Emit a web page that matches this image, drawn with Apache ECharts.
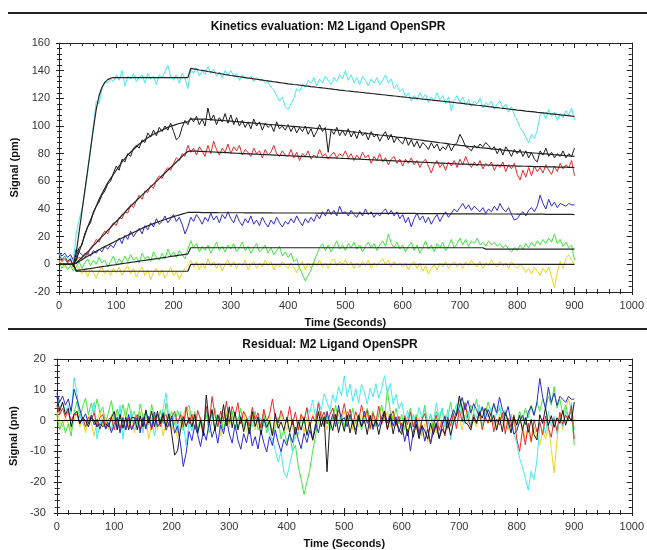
<!DOCTYPE html>
<html lang="en">
<head>
<meta charset="UTF-8">
<script src="https://cdn.jsdelivr.net/npm/echarts@6/dist/echarts.min.js"></script>
<title>Kinetics evaluation: M2 Ligand OpenSPR</title>
<style>html,body{margin:0;padding:0;background:#fff;}</style>
</head>
<body>
<div id="chart" style="width:647px;height:550px;"></div>
<script>
// one sample every 5 s, 0..900 s (rows below = 100 s each)
var timeStep = 5;

var cyanData = [
  8,4,6,3,5,2,22,32,40,52,66,82,100,118,116,127,132,131,134,132,
  137,133,140,129,136,134,138,132,135,137,131,138,134,136,130,137,135,139,144,136,
  133,137,131,138,134,127,141,138,142,136,140,137,143,138,141,136,139,135,140,137,
  140,136,138,133,137,135,134,136,132,135,133,134,131,132,128,126,122,118,121,114,
  112,116,120,127,125,130,128,133,131,135,129,134,131,136,133,130,135,132,137,134,
  140,133,137,131,135,130,136,133,129,134,131,135,130,133,137,131,134,127,130,125,
  127,121,124,118,122,119,124,120,123,117,121,118,124,119,122,116,121,111,119,122,
  117,121,115,119,114,118,116,120,113,117,115,118,112,116,118,113,116,110,114,108,
  104,99,96,92,88,94,91,97,108,110,105,112,107,110,104,109,106,111,108,113,
  104
];
var cyanFit = [
  0,0,0,0,0,0,8,23,38,53,68,83,98,112,122,128,131.5,133.5,134.5,135,
  135,135,135,135,135,135,135,135,135,135,135,135,135,135,135,135,135,135,135,135,
  135,135,135,135,135,135,141.6,141.3,140.9,140.5,140.2,139.8,139.4,139.1,138.7,138.3,138.0,137.6,137.2,136.9,
  136.5,136.2,135.9,135.6,135.3,135.0,134.7,134.4,134.1,133.8,133.5,133.2,132.9,132.6,132.3,132.0,131.7,131.4,131.1,130.8,
  130.5,130.3,130.0,129.8,129.5,129.3,129.0,128.8,128.5,128.3,128.0,127.8,127.5,127.3,127.0,126.8,126.5,126.3,126.0,125.8,
  125.5,125.3,125.1,124.8,124.6,124.4,124.2,123.9,123.7,123.5,123.3,123.0,122.8,122.6,122.4,122.1,121.9,121.7,121.5,121.2,
  121.0,120.8,120.6,120.3,120.1,119.9,119.7,119.4,119.2,119.0,118.8,118.5,118.3,118.1,117.9,117.6,117.4,117.2,117.0,116.7,
  116.5,116.3,116.0,115.8,115.5,115.3,115.0,114.8,114.5,114.3,114.0,113.8,113.5,113.3,113.0,112.8,112.5,112.3,112.0,111.8,
  111.5,111.3,111.1,110.8,110.6,110.4,110.2,109.9,109.7,109.5,109.3,109.0,108.8,108.6,108.4,108.1,107.9,107.7,107.5,107.2,
  107
];

var blackData = [
  8,3,6,2,4,-2,5,12,14,22,27,30,38,42,45,50,53,58,60,66,
  71,68,76,74,80,78,84,86,84,90,88,95,92,97,93,99,96,100,97,102,
  96,90,92,99,104,101,106,103,107,101,105,100,113,104,108,101,106,103,109,102,
  108,101,106,100,104,99,103,98,105,100,103,97,102,99,101,96,103,98,100,97,
  101,96,100,95,99,96,100,94,98,92,96,101,96,99,81,97,94,99,93,97,
  93,98,92,96,91,97,93,95,90,96,92,94,89,93,96,90,94,88,92,89,
  87,92,86,90,85,89,84,88,86,83,88,84,87,82,85,83,87,82,86,88,
  94,90,85,84,82,86,84,87,85,88,86,83,85,80,84,79,85,82,78,83,
  80,83,78,82,77,81,76,74,82,79,84,78,81,77,80,78,82,77,80,78,
  84
];
var blackFit = [
  0,0,0,0,0,0,3,9,15,21,27,32,37,42,47,51,55,59,62,65,
  68,71,74,76.5,79,81,83,85,87,88.5,90,91.5,92.8,94,95,96,97,98,99,99.8,
  100.5,101.2,101.8,102.3,102.7,103,105,105,105,105,105,104.9,104.7,104.6,104.4,104.3,104.1,104.0,103.8,103.7,
  103.5,103.3,103.2,103.0,102.8,102.6,102.5,102.3,102.1,101.9,101.8,101.6,101.4,101.2,101.1,100.9,100.7,100.5,100.4,100.2,
  100.0,99.8,99.7,99.5,99.3,99.1,99.0,98.8,98.6,98.4,98.3,98.1,97.9,97.7,97.6,97.4,97.2,97.0,96.9,96.7,
  96.5,96.3,96.0,95.8,95.5,95.3,95.0,94.8,94.5,94.3,94.0,93.8,93.5,93.3,93.0,92.8,92.5,92.3,92.0,91.8,
  91.5,91.2,91.0,90.7,90.4,90.1,89.9,89.6,89.3,89.0,88.8,88.5,88.2,87.9,87.7,87.4,87.1,86.8,86.6,86.3,
  86.0,85.8,85.6,85.3,85.1,84.9,84.7,84.4,84.2,84.0,83.8,83.5,83.3,83.1,82.9,82.6,82.4,82.2,82.0,81.7,
  81.5,81.3,81.2,81.0,80.8,80.6,80.5,80.3,80.1,79.9,79.8,79.6,79.4,79.2,79.1,78.9,78.7,78.5,78.4,78.2,
  78
];

var redData = [
  5,2,4,1,3,0,3,5,4,8,7,12,14,18,16,21,24,22,27,30,
  28,34,33,38,37,43,41,46,50,47,53,52,57,55,61,64,62,67,70,68,
  73,77,75,80,78,86,81,84,79,85,82,78,86,80,89,83,79,84,81,87,
  80,85,82,86,79,83,81,78,84,80,82,77,83,79,81,86,80,78,82,79,
  78,83,77,81,75,80,78,82,76,79,77,83,78,80,76,79,81,77,80,78,
  82,77,80,75,79,76,81,77,79,73,78,75,80,74,77,72,76,78,73,76,
  71,76,73,77,72,75,70,74,76,71,66,72,75,70,73,68,74,71,75,70,
  76,72,78,73,70,74,71,75,69,73,71,74,68,72,70,74,67,72,69,73,
  65,61,68,63,70,64,71,67,70,66,72,68,65,71,67,73,69,72,70,75,
  64
];
var redFit = [
  0,0,0,0,0,0,1,3,5,7,9,11,13.5,15.5,18,20,22,24.5,26.5,29,
  31,33,35.5,37.5,40,42,44,46,48,50,52,54,56,58,60,62,64,66,68,70,
  72,74,76,78,80,81.5,82.0,81.9,81.8,81.7,81.6,81.5,81.4,81.3,81.2,81.1,81.0,80.9,80.8,80.7,
  80.5,80.4,80.3,80.2,80.1,80.0,79.9,79.8,79.7,79.6,79.5,79.4,79.3,79.2,79.1,79.0,78.9,78.8,78.7,78.6,
  78.5,78.4,78.3,78.2,78.1,78.0,77.9,77.8,77.7,77.6,77.5,77.4,77.3,77.2,77.1,77.0,76.9,76.8,76.7,76.6,
  76.5,76.4,76.3,76.2,76.1,76.0,75.9,75.8,75.7,75.6,75.5,75.4,75.3,75.2,75.1,75.0,74.9,74.8,74.7,74.6,
  74.5,74.4,74.3,74.2,74.1,74.0,73.9,73.8,73.7,73.6,73.5,73.4,73.3,73.2,73.1,73.0,72.9,72.8,72.7,72.6,
  72.5,72.4,72.4,72.3,72.2,72.1,72.1,72.0,71.9,71.8,71.8,71.7,71.6,71.5,71.5,71.4,71.3,71.2,71.2,71.1,
  71.0,71.0,70.9,70.9,70.8,70.8,70.7,70.7,70.6,70.6,70.5,70.5,70.4,70.4,70.3,70.3,70.2,70.2,70.1,70.1,
  70
];

var blueData = [
  9,6,8,5,7,3,11,9,7,5,8,6,10,8,11,9,13,11,14,12,
  16,19,15,21,18,24,20,23,26,22,28,25,30,27,33,29,31,35,30,33,
  36,31,34,29,22,27,34,31,36,33,29,34,31,37,32,35,30,36,33,38,
  33,30,36,31,28,33,30,35,29,32,28,34,30,27,32,29,34,30,27,31,
  29,33,30,35,31,28,33,30,34,31,36,33,38,35,40,36,39,35,42,37,
  38,35,39,36,34,38,35,40,36,38,34,37,35,38,40,36,39,35,38,33,
  36,30,34,27,33,37,32,35,30,34,29,33,36,31,35,38,34,37,40,38,
  41,44,40,43,39,42,40,38,41,37,40,38,42,39,44,40,38,41,36,32,
  33,36,38,35,39,41,38,42,50,44,40,47,42,45,41,44,43,42,44,43,
  43
];
var blueFit = [
  0,0,0,0,0,0,0.8,2.0,3.3,4.6,5.8,7.0,8.2,9.4,10.6,11.8,12.8,13.8,14.8,15.9,
  17,18,19,20,21,22,23,24,25,26,27,27.8,28.6,29.4,30.2,31,31.7,32.4,33.1,33.8,
  34.5,35.1,35.7,36.3,36.9,37.5,37.5,37.5,37.5,37.5,37.4,37.4,37.4,37.4,37.4,37.4,37.3,37.3,37.3,37.3,
  37.3,37.3,37.3,37.3,37.3,37.2,37.2,37.2,37.2,37.2,37.2,37.2,37.2,37.2,37.2,37.1,37.1,37.1,37.1,37.1,
  37.1,37.1,37.1,37.1,37.1,37.1,37.1,37.1,37.1,37.1,37.0,37.0,37.0,37.0,37.0,37.0,37.0,37.0,37.0,37.0,
  37.0,37.0,37.0,37.0,37.0,36.9,36.9,36.9,36.9,36.9,36.9,36.9,36.9,36.9,36.9,36.8,36.8,36.8,36.8,36.8,
  36.8,36.8,36.8,36.8,36.8,36.7,36.7,36.7,36.7,36.7,36.6,36.6,36.6,36.6,36.6,36.6,36.5,36.5,36.5,36.5,
  36.5,36.5,36.5,36.5,36.5,36.5,36.5,36.5,36.5,36.5,36.4,36.4,36.4,36.4,36.4,36.4,36.4,36.4,36.4,36.4,
  36.3,36.3,36.3,36.3,36.3,36.3,36.3,36.3,36.3,36.3,36.1,36.1,36.1,36.1,36.1,36.1,36.1,36.1,36.1,36.1,
  36
];

var greenData = [
  2,-3,0,-4,-1,-5,-2,2,-3,1,4,-1,3,0,5,1,3,-2,2,6,
  0,4,1,6,2,7,3,5,1,8,4,6,2,9,5,3,8,4,11,6,
  9,5,10,7,4,11,17,12,15,9,13,10,14,8,12,16,10,13,9,14,
  11,15,9,12,16,10,13,8,12,15,9,11,14,8,12,7,10,13,6,9,
  5,8,2,4,-3,-7,-12,-8,-4,2,7,12,15,10,14,9,13,17,11,14,
  10,15,12,16,11,14,9,13,16,12,15,10,14,17,13,22,15,12,16,11,
  14,9,13,16,10,14,8,12,17,11,14,9,15,12,16,10,13,18,12,15,
  19,14,18,13,17,15,19,14,16,13,17,14,16,13,15,12,14,11,9,12,
  10,14,11,15,12,16,13,17,14,18,15,19,16,22,15,18,13,16,12,14,
  3
];
var greenFit = [
  0,0,0,0,0,0,-4.5,-4.2,-3.9,-3.6,-3.3,-3.0,-2.7,-2.3,-2.0,-1.7,-1.4,-1.1,-0.8,-0.5,
  -0.2,0.2,0.5,0.8,1.1,1.4,1.7,2.0,2.3,2.6,2.9,3.2,3.5,3.8,4.1,4.4,4.7,5.0,5.3,5.7,
  6.0,6.3,6.6,6.9,7.2,7.5,12,12,12,12,12,12,12,12,12,12,12,12,12,12,
  12,12,12,12,12,12,12,12,12,12,12,12,12,12,12,12,12,12,12,12,
  12,12,12,12,12,12,12,12,12,12,12,12,12,12,12,12,12,12,12,12,
  12,12,12,12,12,12,12,12,12,12,12,12,12,12,12,12,12,12,12,12,
  12,12,12,12,12,12,12,12,12,12,12,12,12,12,12,12,12,12,12,12,
  12,12,12,12,12,12,12,12,12,11,11,11,11,11,11,11,11,11,11,11,
  11,11,11,11,11,11,11,11,11,11,11,11,11,11,11,11,11,11,11,11,
  11
];

var yellowData = [
  3,0,-2,1,-1,-3,-5,-2,-7,-4,-9,-3,-6,-10,-5,-2,-7,-4,-8,-3,
  -6,-2,-8,-4,-1,-7,-3,-9,-5,-2,-8,-4,-11,-6,-3,-8,-4,-10,-6,-2,
  -8,-5,-11,-6,-3,-1,3,-2,2,-4,1,-3,4,-1,2,-3,1,-5,0,3,
  -2,2,-3,1,-1,3,-4,0,2,-3,1,-2,3,-1,2,-4,0,-2,2,-1,
  -3,1,-2,-6,-1,2,-4,1,-3,2,-1,3,-2,1,-3,2,4,-1,2,0,
  3,-1,2,-3,1,-2,2,-1,3,-3,1,-1,2,4,0,3,-2,2,-1,1,
  -2,1,-4,0,2,-3,1,-5,-1,-7,-3,0,-4,1,-2,2,-3,0,2,-2,
  1,-3,2,-1,3,0,-2,2,-3,1,-1,3,0,-2,2,-1,1,-3,2,-1,
  -3,0,-2,-6,-3,-7,-2,-5,-8,-3,-6,-2,-9,-17,-6,2,-3,4,7,3,
  0
];
var yellowFit = [
  0,0,0,0,0,0,-5,-5,-5,-5,-5,-5,-5,-5,-5,-5,-5,-5,-5,-5,
  -5,-5,-5,-5,-5,-5,-5,-5,-5,-5,-5,-5,-5,-5,-5,-5,-5,-5,-5,-5,
  -5,-5,-5,-5,-5,-5,0,0,0,0,0,0,0,0,0,0,0,0,0,0,
  0,0,0,0,0,0,0,0,0,0,0,0,0,0,0,0,0,0,0,0,
  0,0,0,0,0,0,0,0,0,0,0,0,0,0,0,0,0,0,0,0,
  0,0,0,0,0,0,0,0,0,0,0,0,0,0,0,0,0,0,0,0,
  0,0,0,0,0,0,0,0,0,0,0,0,0,0,0,0,0,0,0,0,
  0,0,0,0,0,0,0,0,0,0,0,0,0,0,0,0,0,0,0,0,
  0,0,0,0,0,0,0,0,0,0,0,0,0,0,0,0,0,0,0,0,
  0
];

var FONT = 'Arial, "Liberation Sans", sans-serif';
var axisColor = '#222';

var times = [];
for (var i = 0; i < cyanData.length; i++) times.push(i * timeStep);

function pairs(vals) {
    return vals.map(function (v, i) { return [times[i], v]; });
}
// residual = measured - fitted
function residual(data, fit) {
    return data.map(function (v, i) { return [times[i], Math.round((v - fit[i]) * 10) / 10]; });
}

// main axis (labels + inward ticks), a copy for the outward half of the ticks, and the opposite frame side
function axisSet(grid, dim, min, max, step, margin, name, nameGap) {
    var base = {gridIndex: grid, type: 'value', min: min, max: max, interval: step,
                splitLine: {show: false}, axisPointer: {show: false}};
    var tickStyle = {color: axisColor, width: 1};
    var main = Object.assign({}, base, {
        position: dim === 'x' ? 'bottom' : 'left',
        axisLine: {onZero: false, lineStyle: {color: axisColor, width: 1}},
        axisTick: {inside: true, length: 5, lineStyle: tickStyle},
        minorTick: {show: true, splitNumber: 5, length: 3, lineStyle: tickStyle},
        axisLabel: {color: '#333', fontSize: 11, fontFamily: FONT, margin: margin,
                    formatter: function (v) { return String(v); }},
        name: name, nameLocation: 'middle', nameGap: nameGap,
        nameTextStyle: {fontWeight: 'bold', fontSize: 11, color: '#111', fontFamily: FONT}
    });
    var outer = Object.assign({}, base, {
        position: main.position,
        axisLine: {show: false, onZero: false},
        axisTick: {inside: false, length: 3, lineStyle: tickStyle},
        minorTick: {show: true, splitNumber: 5, length: 2, lineStyle: tickStyle},
        axisLabel: {show: false}
    });
    var opposite = Object.assign({}, base, {
        position: dim === 'x' ? 'top' : 'right',
        axisLine: {onZero: false, lineStyle: {color: axisColor, width: 1}},
        axisTick: {inside: true, length: 5, lineStyle: tickStyle},
        minorTick: {show: true, splitNumber: 5, length: 3, lineStyle: tickStyle},
        axisLabel: {show: false}
    });
    return [main, outer, opposite];
}

var colors = {
    cyan: '#45eaf0', black: '#1a1a1a', red: '#e82a2a',
    blue: '#2b2bd2', green: '#3ee83e', yellow: '#f2d21c'
};
var fitColor = '#222';

function line(name, data, color, width, axis) {
    return {
        name: name, type: 'line', data: data, xAxisIndex: axis, yAxisIndex: axis,
        showSymbol: false, symbol: 'none', silent: true, animation: false,
        lineStyle: {color: color, width: width}
    };
}

var sets = [
    ['yellow', yellowData, yellowFit],
    ['green', greenData, greenFit],
    ['blue', blueData, blueFit],
    ['red', redData, redFit],
    ['black', blackData, blackFit],
    ['cyan', cyanData, cyanFit]
];

var series = [];
sets.forEach(function (s) { series.push(line(s[0], pairs(s[1]), colors[s[0]], 1, 0)); });
sets.forEach(function (s) { series.push(line(s[0] + ' fit', pairs(s[2]), fitColor, 1.2, 0)); });

var residOrder = ['yellow', 'green', 'cyan', 'red', 'blue', 'black'];
residOrder.forEach(function (key, k) {
    var s = sets.filter(function (x) { return x[0] === key; })[0];
    var ser = line(key + ' residual', residual(s[1], s[2]), colors[key], 1, 3);
    if (k === 0) {
        ser.markLine = {
            silent: true, symbol: 'none', animation: false,
            label: {show: false},
            lineStyle: {color: '#000', width: 1, type: 'solid'},
            data: [{yAxis: 0}]
        };
    }
    series.push(ser);
});

var xTop = axisSet(0, 'x', 0, 1000, 100, 8, 'Time (Seconds)', 25);
var yTop = axisSet(0, 'y', -20, 160, 20, 9, 'Signal (pm)', 36);
var xBot = axisSet(1, 'x', 0, 1000, 100, 8, 'Time (Seconds)', 25);
var yBot = axisSet(1, 'y', -30, 20, 10, 11, 'Signal (pm)', 33);

var chart = echarts.init(document.getElementById('chart'));
chart.setOption({
    backgroundColor: '#fff',
    animation: false,
    grid: [
        {left: 59, top: 43, width: 578, height: 249},
        {left: 56, top: 359, width: 581, height: 155}
    ],
    xAxis: xTop.concat(xBot),
    yAxis: yTop.concat(yBot),
    graphic: [
        {type: 'line', shape: {x1: 8, y1: 13, x2: 647, y2: 13}, style: {stroke: '#222', lineWidth: 2}},
        {type: 'line', shape: {x1: 8, y1: 329, x2: 647, y2: 329}, style: {stroke: '#222', lineWidth: 2}},
        {type: 'text', x: 328, y: 27, style: {text: 'Kinetics evaluation: M2 Ligand OpenSPR',
            fill: '#111', font: 'bold 12px ' + FONT, textAlign: 'center', textVerticalAlign: 'middle'}},
        {type: 'text', x: 330, y: 345, style: {text: 'Residual: M2 Ligand OpenSPR',
            fill: '#111', font: 'bold 12px ' + FONT, textAlign: 'center', textVerticalAlign: 'middle'}}
    ],
    series: series
});
</script>
</body>
</html>
